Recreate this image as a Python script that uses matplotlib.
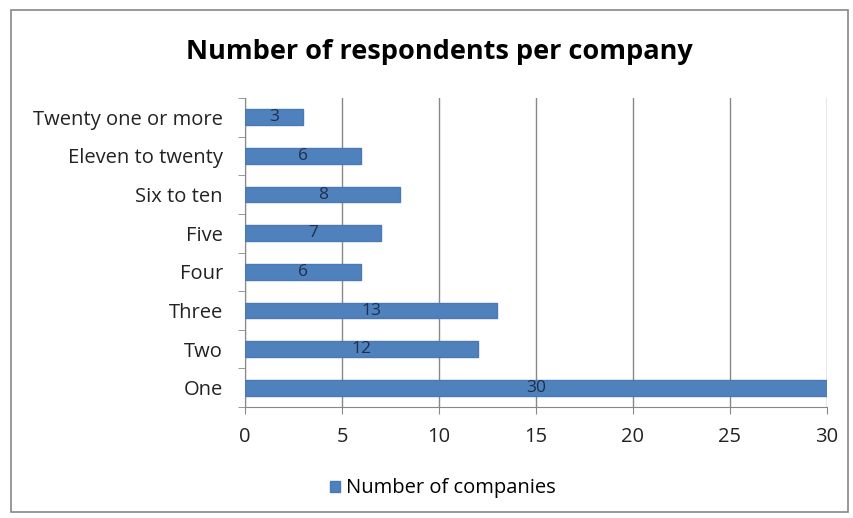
import matplotlib.pyplot as plt
from matplotlib.patches import Rectangle

categories = ['One', 'Two', 'Three', 'Four', 'Five', 'Six to ten',
              'Eleven to twenty', 'Twenty one or more']
companies = [30, 12, 13, 6, 7, 8, 6, 3]

plt.rcParams['font.family'] = ['Open Sans', 'DejaVu Sans']

fig = plt.figure(figsize=(8.54, 5.18), dpi=100)
ax = fig.add_axes([0.287, 0.214, 0.681, 0.597])

fig.patches.append(Rectangle((11/854, 1-512/518), 837/854, 502/518,
                             transform=fig.transFigure, fill=False,
                             edgecolor='#888888', linewidth=1.2))

ypos = list(range(len(categories)))
bars = ax.barh(ypos, companies, height=0.4, color='#4f81bd',
               edgecolor='#4a7ab5', label='Number of companies', zorder=3)
for y, v in zip(ypos, companies):
    ax.text(v / 2, y, str(v), ha='center', va='center', fontsize=12.5,
            color='#1f2f4f', zorder=4)

ax.set_xlim(0, 30)
ax.set_ylim(-0.5, len(categories) - 0.5)
ax.set_xticks(range(0, 31, 5))
ax.set_yticks(ypos)
ax.set_yticklabels(categories)
ax.set_yticks([i - 0.5 for i in range(len(categories) + 1)], minor=True)
ax.tick_params(axis='y', which='major', length=0, labelsize=14.5, pad=16,
               labelcolor='#222222')
ax.tick_params(axis='y', which='minor', length=5, color='#888888')
ax.tick_params(axis='x', length=5, color='#888888', labelsize=14.5,
               labelcolor='#222222', pad=9)
ax.grid(axis='x', color='#888888', linewidth=1, zorder=0)
for s in ['top', 'right']:
    ax.spines[s].set_visible(False)
for s in ['left', 'bottom']:
    ax.spines[s].set_color('#888888')

fig.text(0.514, 0.9, 'Number of respondents per company', ha='center',
         va='center', fontsize=19.5, fontweight='bold')

fig.legend(loc='center', bbox_to_anchor=(0.519, 0.057), frameon=False,
           fontsize=14.5, handlelength=0.5, handleheight=0.5, handletextpad=0.3)

fig.savefig('out.png', dpi=100)
